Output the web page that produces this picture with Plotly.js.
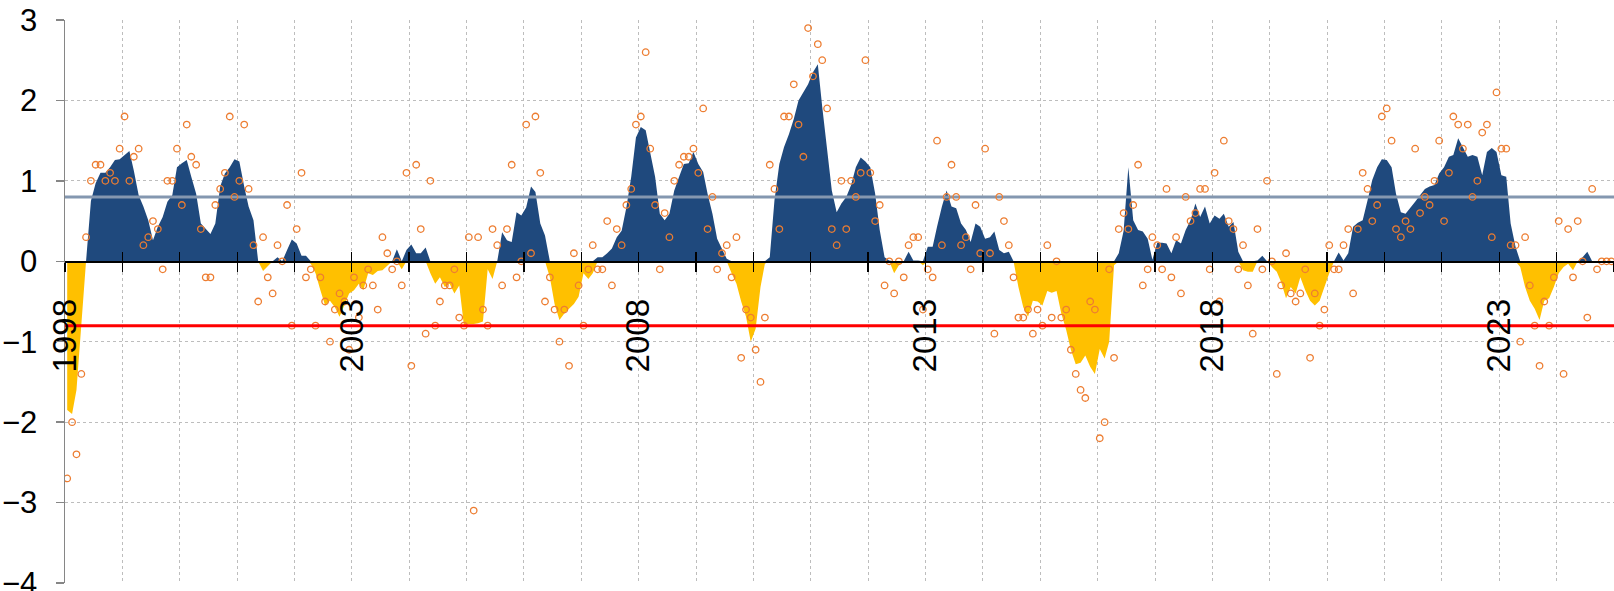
<!DOCTYPE html>
<html>
<head>
<meta charset="utf-8">
<script src="https://cdn.plot.ly/plotly-3.0.1.min.js"></script>
<style>
html,body{margin:0;padding:0;background:#ffffff;}
#chart{width:1614px;height:591px;}
</style>
</head>
<body>
<div id="chart"></div>
<script>
// First month of the series (January 1998), monthly data through December 2024
const startYear = 1998;

// Monthly readings (orange circles), one row per year
const monthlyValues = [
  -2.7,-2.0,-2.4,-1.4, 0.3, 1.0, 1.2, 1.2, 1.0, 1.1, 1.0, 1.4, // 1998
   1.8, 1.0, 1.3, 1.4, 0.2, 0.3, 0.5, 0.4,-0.1, 1.0, 1.0, 1.4, // 1999
   0.7, 1.7, 1.3, 1.2, 0.4,-0.2,-0.2, 0.7, 0.9, 1.1, 1.8, 0.8, // 2000
   1.0, 1.7, 0.9, 0.2,-0.5, 0.3,-0.2,-0.4, 0.2, 0.0, 0.7,-0.8, // 2001
   0.4, 1.1,-0.2,-0.1,-0.8,-0.2,-0.5,-1.0,-0.6,-0.4,-0.5,-1.1, // 2002
  -0.2,-0.7,-0.3,-0.1,-0.3,-0.6, 0.3, 0.1,-0.1, 0.0,-0.3, 1.1, // 2003
  -1.3, 1.2, 0.4,-0.9, 1.0,-0.8,-0.5,-0.3,-0.3,-0.1,-0.7,-0.8, // 2004
   0.3,-3.1, 0.3,-0.6,-0.8, 0.4, 0.2,-0.3, 0.4, 1.2,-0.2, 0.0, // 2005
   1.7, 0.1, 1.8, 1.1,-0.5,-0.2,-0.6,-1.0,-0.6,-1.3, 0.1,-0.3, // 2006
  -0.8,-0.1, 0.2,-0.1,-0.1, 0.5,-0.3, 0.4, 0.2, 0.7, 0.9, 1.7, // 2007
   1.8, 2.6, 1.4, 0.7,-0.1, 0.6, 0.3, 1.0, 1.2, 1.3, 1.3, 1.4, // 2008
   1.1, 1.9, 0.4, 0.8,-0.1, 0.1, 0.2,-0.2, 0.3,-1.2,-0.6,-0.7, // 2009
  -1.1,-1.5,-0.7, 1.2, 0.9, 0.4, 1.8, 1.8, 2.2, 1.7, 1.3, 2.9, // 2010
   2.3, 2.7, 2.5, 1.9, 0.4, 0.2, 1.0, 0.4, 1.0, 0.8, 1.1, 2.5, // 2011
   1.1, 0.5, 0.7,-0.3, 0.0,-0.4, 0.0,-0.2, 0.2, 0.3, 0.3,-0.6, // 2012
  -0.1,-0.2, 1.5, 0.2, 0.8, 1.2, 0.8, 0.2, 0.3,-0.1, 0.7, 0.1, // 2013
   1.4, 0.1,-0.9, 0.8, 0.5, 0.2,-0.2,-0.7,-0.7,-0.6,-0.9,-0.6, // 2014
  -0.8, 0.2,-0.7, 0.0,-0.7,-0.6,-1.1,-1.4,-1.6,-1.7,-0.5,-0.6, // 2015
  -2.2,-2.0,-0.1,-1.2, 0.4, 0.6, 0.4, 0.7, 1.2,-0.3,-0.1, 0.3, // 2016
   0.2,-0.1, 0.9,-0.2, 0.3,-0.4, 0.8, 0.5, 0.6, 0.9, 0.9,-0.1, // 2017
   1.1,-0.5, 1.5, 0.5, 0.4,-0.1, 0.2,-0.3,-0.9, 0.4,-0.1, 1.0, // 2018
   0.0,-1.4,-0.3, 0.1,-0.4,-0.5,-0.4,-0.1,-1.2,-0.4,-0.8,-0.6, // 2019
   0.2,-0.1,-0.1, 0.2, 0.4,-0.4, 0.4, 1.1, 0.9, 0.5, 0.7, 1.8, // 2020
   1.9, 1.5, 0.4, 0.3, 0.5, 0.4, 1.4, 0.6, 0.8, 0.7, 1.0, 1.5, // 2021
   0.5, 1.1, 1.8, 1.7, 1.4, 1.7, 0.8, 1.0, 1.6, 1.7, 0.3, 2.1, // 2022
   1.4, 1.4, 0.2, 0.2,-1.0, 0.3,-0.3,-0.8,-1.3,-0.5,-0.8,-0.2, // 2023
   0.5,-1.4, 0.4,-0.2, 0.5, 0.0,-0.7, 0.9,-0.1, 0.0, 0.0, 0.0  // 2024
];

// Smoothed trend (blue above zero, yellow below zero), one row per year
const trendValues = [
  -1.85,-1.90,-1.60,-0.80, 0.00, 0.75, 0.97, 1.10, 1.10, 1.17, 1.26, 1.27, // 1998
   1.32, 1.37, 1.13, 0.82, 0.68, 0.51, 0.26, 0.43, 0.55, 0.74, 0.82, 1.17, // 1999
   1.22, 1.26, 1.05, 0.84, 0.47, 0.41, 0.34, 0.47, 0.93, 1.09, 1.17, 1.27, // 2000
   1.24, 0.93, 0.68, 0.51, 0.00,-0.12,-0.06, 0.00, 0.05, 0.00, 0.14, 0.27, // 2001
   0.22, 0.07, 0.07,-0.03,-0.15,-0.36,-0.55,-0.49,-0.57,-0.69,-0.53,-0.40, // 2002
  -0.36,-0.28,-0.36,-0.15,-0.17,-0.12,-0.11,-0.05, 0.00, 0.15,-0.10, 0.14, // 2003
   0.21, 0.10, 0.10, 0.17,-0.15,-0.28,-0.20,-0.32,-0.28,-0.40,-0.30,-0.80, // 2004
  -0.78,-0.78,-0.77,-0.75,-0.10,-0.22, 0.00, 0.36, 0.26, 0.24, 0.61, 0.57, // 2005
   0.67, 0.93, 0.86, 0.47, 0.32,-0.20,-0.53,-0.73,-0.65,-0.59,-0.53,-0.44, // 2006
  -0.15,-0.22,-0.15, 0.05, 0.05, 0.10, 0.16, 0.30, 0.38, 0.67, 1.05, 1.54, // 2007
   1.67, 1.63, 1.36, 1.05, 0.59, 0.51, 0.59, 0.88, 1.05, 1.21, 1.22, 1.36, // 2008
   1.21, 1.11, 0.84, 0.59, 0.28, 0.16, 0.03,-0.15,-0.28,-0.50,-0.69,-1.00, // 2009
  -0.84,-0.32,-0.03, 0.05, 0.76, 1.21, 1.42, 1.58, 1.77, 2.00, 2.10, 2.20, // 2010
   2.35, 2.45, 1.92, 1.38, 0.88, 0.61, 0.72, 0.80, 0.95, 1.17, 1.29, 1.24, // 2011
   1.17, 0.84, 0.39, 0.05, 0.01,-0.15,-0.05, 0.00, 0.12, 0.01, 0.01,-0.05, // 2012
   0.18, 0.18, 0.43, 0.68, 0.88, 0.68, 0.66, 0.47, 0.39, 0.24, 0.47, 0.43, // 2013
   0.28, 0.30, 0.37, 0.14, 0.10, 0.12, 0.00,-0.32,-0.57,-0.69,-0.49,-0.50, // 2014
  -0.55,-0.37,-0.39,-0.37,-0.65,-0.85,-1.10,-1.28,-1.26,-1.17,-1.31,-1.40, // 2015
  -1.09,-1.21,-1.00,-0.05, 0.10, 0.38, 1.17, 0.51, 0.39, 0.37, 0.28, 0.02, // 2016
   0.23, 0.23, 0.22, 0.10, 0.26, 0.22, 0.39, 0.51, 0.72, 0.55, 0.68, 0.47, // 2017
   0.57, 0.53, 0.59, 0.43, 0.49, 0.12,-0.11,-0.13,-0.13, 0.01, 0.07, 0.00, // 2018
  -0.07,-0.13,-0.26,-0.46,-0.32,-0.40,-0.20,-0.36,-0.49,-0.55,-0.49,-0.32, // 2019
  -0.15, 0.00, 0.11, 0.01, 0.10, 0.43, 0.48, 0.51, 0.76, 1.01, 1.17, 1.27, // 2020
   1.26, 1.17, 0.84, 0.61, 0.59, 0.66, 0.74, 0.82, 0.90, 0.93, 0.95, 1.09, // 2021
   1.17, 1.30, 1.32, 1.53, 1.42, 1.30, 1.32, 1.30, 1.07, 1.36, 1.41, 1.36, // 2022
   1.07, 1.05, 0.47, 0.18,-0.07,-0.32,-0.49,-0.59,-0.73,-0.49,-0.46,-0.32, // 2023
  -0.15,-0.07,-0.03,-0.11, 0.00, 0.05, 0.12, 0.00, 0.00, 0.00, 0.00, 0.00  // 2024
];

// Threshold lines
const upperThreshold = 0.8;
const lowerThreshold = -0.8;

// Axis extent
const xStart = '1998-01-01';
const xEnd = '2025-01-01';

// Month positions (middle of each month)
const months = monthlyValues.map((_, i) => {
  const y = startYear + Math.floor(i / 12);
  const m = (i % 12) + 1;
  return y + '-' + (m < 10 ? '0' + m : m) + '-15';
});

const FONT = 'Liberation Sans, Arial, sans-serif';
const GRID = '#BDBDBD';
const ZERO_POS = 4 / 7;

const traces = [
  {
    x: months, y: trendValues.map(v => Math.max(v, 0)),
    type: 'scatter', mode: 'lines', fill: 'tozeroy',
    fillcolor: '#1F497D', line: {width: 0, color: '#1F497D'},
    hoverinfo: 'skip', showlegend: false
  },
  {
    x: months, y: trendValues.map(v => Math.min(v, 0)),
    type: 'scatter', mode: 'lines', fill: 'tozeroy',
    fillcolor: '#FFC000', line: {width: 0, color: '#FFC000'},
    hoverinfo: 'skip', showlegend: false
  },
  {
    x: [xStart, xEnd], y: [upperThreshold, upperThreshold],
    type: 'scatter', mode: 'lines',
    line: {color: '#8497B0', width: 3},
    hoverinfo: 'skip', showlegend: false
  },
  {
    x: [xStart, xEnd], y: [lowerThreshold, lowerThreshold],
    xaxis: 'x2',
    type: 'scatter', mode: 'lines',
    line: {color: '#FF0000', width: 3},
    hoverinfo: 'skip', showlegend: false
  },
  {
    x: months, y: monthlyValues,
    type: 'scatter', mode: 'markers',
    marker: {symbol: 'circle-open', size: 6.5, color: '#ED7D31', line: {width: 1.3, color: '#ED7D31'}},
    showlegend: false
  }
];

const layout = {
  width: 1614, height: 591,
  margin: {l: 65, r: 0, t: 20, b: 8, pad: 0},
  paper_bgcolor: '#ffffff', plot_bgcolor: '#ffffff',
  showlegend: false,
  font: {family: FONT, color: '#000'},
  xaxis: {
    type: 'date', range: [xStart, xEnd],
    tickmode: 'linear', tick0: xStart, dtick: 'M60', tickformat: '%Y',
    tickangle: -90,
    ticks: 'outside', ticklen: 9, tickwidth: 1.3, tickcolor: '#000',
    ticklabelstandoff: 14,
    tickfont: {family: FONT, size: 33, color: '#000'},
    showline: true, linecolor: '#000', linewidth: 1.5,
    showgrid: true, gridcolor: GRID, griddash: 'dot', gridwidth: 1,
    zeroline: false,
    anchor: 'free', position: ZERO_POS,
    minor: {
      tickmode: 'linear', tick0: xStart, dtick: 'M12',
      ticks: 'outside', ticklen: 9, tickwidth: 1.3, tickcolor: '#000',
      showgrid: true, gridcolor: GRID, griddash: 'dot', gridwidth: 1
    },
    fixedrange: true
  },
  xaxis2: {
    type: 'date', matches: 'x', overlaying: 'x',
    tickmode: 'linear', tick0: xStart, dtick: 'M60',
    ticks: 'inside', ticklen: 9, tickwidth: 1.3, tickcolor: '#000',
    showticklabels: false, showgrid: false, showline: false, zeroline: false,
    anchor: 'free', position: ZERO_POS,
    minor: {
      tickmode: 'linear', tick0: xStart, dtick: 'M12',
      ticks: 'inside', ticklen: 9, tickwidth: 1.3, tickcolor: '#000',
      showgrid: false
    },
    fixedrange: true
  },
  yaxis: {
    range: [-4, 3], tickmode: 'linear', tick0: 0, dtick: 1,
    ticks: 'outside', ticklen: 8, tickwidth: 1.3, tickcolor: '#868686',
    ticklabelstandoff: 12,
    ticklabeloverflow: 'allow',
    tickfont: {family: FONT, size: 31, color: '#000'},
    showline: true, linecolor: '#868686', linewidth: 1.5,
    showgrid: true, gridcolor: GRID, griddash: 'dot', gridwidth: 1,
    zeroline: false,
    fixedrange: true
  }
};

Plotly.newPlot('chart', traces, layout, {displayModeBar: false, staticPlot: true});
</script>
</body>
</html>
